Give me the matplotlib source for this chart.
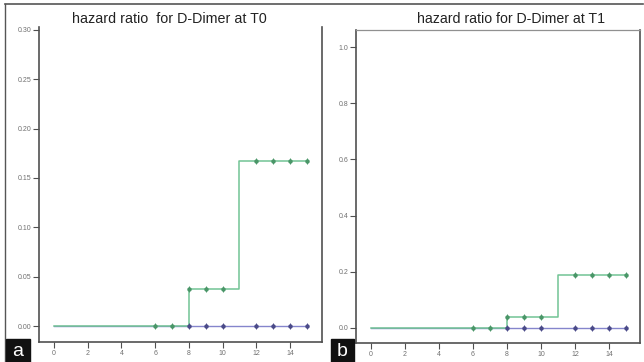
import matplotlib
matplotlib.use("Agg")
import matplotlib.pyplot as plt
from matplotlib.lines import Line2D
from matplotlib.patches import Rectangle

plt.rcParams['font.family'] = ['Liberation Sans', 'DejaVu Sans']

# Panel a data (T0)
a_step_t = [0, 8, 11, 15]
a_step_y = [0.0, 0.038, 0.167, 0.167]
a_gcens_t = [6, 7, 8, 9, 10, 12, 13, 14, 15]
a_gcens_y = [0.0, 0.0, 0.038, 0.038, 0.038, 0.167, 0.167, 0.167, 0.167]
a_blue_t = [0, 15]
a_blue_y = [0.0, 0.0]
a_bcens_t = [8, 9, 10, 12, 13, 14, 15]
a_bcens_y = [0.0, 0.0, 0.0, 0.0, 0.0, 0.0, 0.0]

# Panel b data (T1)
b_step_t = [0, 8, 11, 15]
b_step_y = [0.0, 0.04, 0.19, 0.19]
b_gcens_t = [6, 7, 8, 9, 10, 12, 13, 14, 15]
b_gcens_y = [0.0, 0.0, 0.04, 0.04, 0.04, 0.19, 0.19, 0.19, 0.19]
b_blue_t = [0, 15]
b_blue_y = [0.0, 0.0]
b_bcens_t = [8, 9, 10, 12, 13, 14, 15]
b_bcens_y = [0.0, 0.0, 0.0, 0.0, 0.0, 0.0, 0.0]

x_ticks = [0, 2, 4, 6, 8, 10, 12, 14]
a_yticks = [0.00, 0.05, 0.10, 0.15, 0.20, 0.25, 0.30]
a_ylabels = ["0.00", "0.05", "0.10", "0.15", "0.20", "0.25", "0.30"]
b_yticks = [0.0, 0.2, 0.4, 0.6, 0.8, 1.0]
b_ylabels = ["0.0", "0.2", "0.4", "0.6", "0.8", "1.0"]

titles = ["hazard ratio  for D-Dimer at T0", "hazard ratio for D-Dimer at T1"]

GREEN = "#72c494"
GREEN_M = "#4a9668"
BLUE = "#8585cc"
BLUE_M = "#4a4a88"
SPINE = "#505050"
TXT = "#707070"

fig = plt.figure(figsize=(6.44, 3.62), dpi=100)

ax_a = fig.add_axes([39/644, 1-342/362, (322-39)/644, (342-27)/362])
ax_b = fig.add_axes([356/644, 1-343/362, (640-356)/644, (343-30)/362])

def draw(ax, st, sy, gt, gy, bt, by, bct, bcy, yt, yl, ylim, xlim):
    ax.plot(bt, by, color=BLUE, lw=1.0, zorder=2)
    ax.step(st, sy, where='post', color=GREEN, lw=1.1, zorder=3)
    for t, y, c in ((bct, bcy, BLUE_M), (gt, gy, GREEN_M)):
        ax.plot(t, y, ls='none', marker='o', ms=2.2, color=c, zorder=4)
        ax.plot(t, y, ls='none', marker='|', ms=5, mew=0.7, color=c, zorder=4)
    ax.set_xlim(*xlim)
    ax.set_ylim(*ylim)
    ax.set_xticks(x_ticks)
    ax.set_xticklabels([str(v) for v in x_ticks])
    ax.set_yticks(yt)
    ax.set_yticklabels(yl)
    ax.tick_params(axis='both', labelsize=5, colors=SPINE, labelcolor=TXT, length=4, width=0.8, pad=1.5, direction='out')
    for s in ax.spines.values():
        s.set_color(SPINE)
        s.set_linewidth(1.2)
    ax.spines['top'].set_color("#909090")
    ax.spines['top'].set_linewidth(0.9)

draw(ax_a, a_step_t, a_step_y, a_gcens_t, a_gcens_y, a_blue_t, a_blue_y,
     a_bcens_t, a_bcens_y, a_yticks, a_ylabels, (-0.0162, 0.303), (-0.89, 15.9))
draw(ax_b, b_step_t, b_step_y, b_gcens_t, b_gcens_y, b_blue_t, b_blue_y,
     b_bcens_t, b_bcens_y, b_yticks, b_ylabels, (-0.0534, 1.0605), (-0.88, 15.82))
ax_a.spines['top'].set_visible(False)

fig.text(169/644, 1-19/362, titles[0], ha='center', va='center', fontsize=10.3, color="#222222")
fig.text(511/644, 1-19/362, titles[1], ha='center', va='center', fontsize=10.2, color="#222222")

# outer frame
fig.add_artist(Line2D([5/644, 643/644], [1-4/362, 1-4/362], color="#555555", lw=1.2, transform=fig.transFigure))
fig.add_artist(Line2D([5/644, 5/644], [1-4/362, 0], color="#555555", lw=1.0, transform=fig.transFigure))

# panel letters
fig.add_artist(Rectangle((6/644, 0), 24/644, 23/362, transform=fig.transFigure, color="#111111", zorder=5))
fig.text(18/644, 11/362, "a", ha='center', va='center', fontsize=14, color="white", zorder=6)
fig.add_artist(Rectangle((331/644, 0), 23/644, 23/362, transform=fig.transFigure, color="#111111", zorder=5))
fig.text(342.5/644, 11/362, "b", ha='center', va='center', fontsize=14, color="white", zorder=6)

fig.savefig("out.png", dpi=100)
